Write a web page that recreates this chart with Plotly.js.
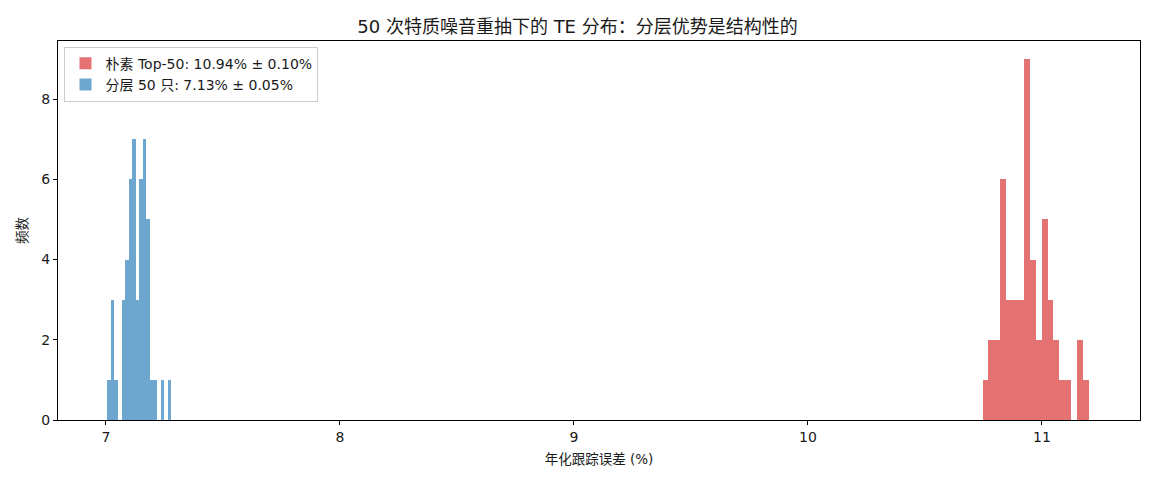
<!DOCTYPE html>
<html>
<head>
<meta charset="utf-8">
<script src="https://cdn.plot.ly/plotly-3.0.1.min.js"></script>
<style>
  html, body { margin: 0; padding: 0; background: #fff; }
  #chart { width: 1155px; height: 484px; }
</style>
</head>
<body>
<div id="chart"></div>
<script>
// Histogram counts (50 redraws each)
const naiveLabel = '朴素 Top-50: 10.94% ± 0.10%';
const naiveBinStart = 10.746;
const naiveBinWidth = 0.02525;
const naiveCounts = [1, 2, 2, 6, 3, 3, 3, 9, 4, 2, 5, 3, 2, 1, 1, 0, 2, 1];

const stratLabel = '分层 50 只: 7.13% ± 0.05%';
const stratBinStart = 7.0057;
const stratBinWidth = 0.0152;
const stratCounts = [1, 3, 1, 0, 3, 4, 6, 7, 3, 6, 7, 5, 1, 1, 0, 1, 0, 1];

const xTicks = [7, 8, 9, 10, 11];
const yTicks = [0, 2, 4, 6, 8];

// wide latin face, CJK falls through to Noto
const FONT = '"DejaVu Sans", "Noto Sans CJK SC", sans-serif';
const COLORS = {
  naive: 'rgba(214, 39, 40, 0.65)',
  strat: 'rgba(31, 119, 180, 0.65)',
  axis:  '#000',
  text:  '#1a1a1a',
};

// bin centres from the left edge of each bin
function binCentres(start, width, counts) {
  return counts.map((_, i) => start + width * (i + 0.5));
}

const traces = [
  {
    type: 'bar',
    name: naiveLabel,
    x: binCentres(naiveBinStart, naiveBinWidth, naiveCounts),
    y: naiveCounts,
    width: naiveBinWidth,
    marker: { color: COLORS.naive, line: { width: 0 } },
  },
  {
    type: 'bar',
    name: stratLabel,
    x: binCentres(stratBinStart, stratBinWidth, stratCounts),
    y: stratCounts,
    width: stratBinWidth,
    marker: { color: COLORS.strat, line: { width: 0 } },
  },
];

const axisBase = {
  showgrid: false,
  zeroline: false,
  showline: true,
  mirror: true,
  linecolor: COLORS.axis,
  linewidth: 1,
  ticks: 'outside',
  ticklen: 4,
  tickwidth: 1,
  tickcolor: COLORS.axis,
  tickfont: { family: FONT, size: 14, color: COLORS.text },
};

const layout = {
  width: 1155,
  height: 484,
  paper_bgcolor: '#fff',
  plot_bgcolor: '#fff',
  font: { family: FONT, color: COLORS.text },
  margin: { t: 41, r: 15, b: 64, l: 58 },
  barmode: 'overlay',
  bargap: 0,
  title: {
    text: '50 次特质噪音重抽下的 TE 分布：分层优势是结构性的',
    font: { family: FONT, size: 18, color: COLORS.text },
    x: 0.5, xanchor: 'center', y: 0.945, yanchor: 'middle',
  },
  xaxis: {
    ...axisBase,
    range: [6.795, 11.419],
    tickvals: xTicks,
    ticktext: xTicks.map(String),
    title: { text: '年化跟踪误差 (%)', font: { family: FONT, size: 13.5, color: COLORS.text }, standoff: 10 },
  },
  yaxis: {
    ...axisBase,
    range: [0, 9.45],
    tickvals: yTicks,
    ticktext: yTicks.map(String),
    title: { text: '频数', font: { family: FONT, size: 13.5, color: COLORS.text }, standoff: 10 },
  },
  showlegend: true,
  legend: {
    x: 0.006, y: 0.985, xanchor: 'left', yanchor: 'top',
    bgcolor: 'rgba(255,255,255,0.8)',
    bordercolor: '#cccccc',
    borderwidth: 1,
    font: { family: FONT, size: 14, color: COLORS.text },
    itemwidth: 30,
    tracegroupgap: 0,
  },
};

Plotly.newPlot('chart', traces, layout, { displayModeBar: false, staticPlot: true });
</script>
</body>
</html>
